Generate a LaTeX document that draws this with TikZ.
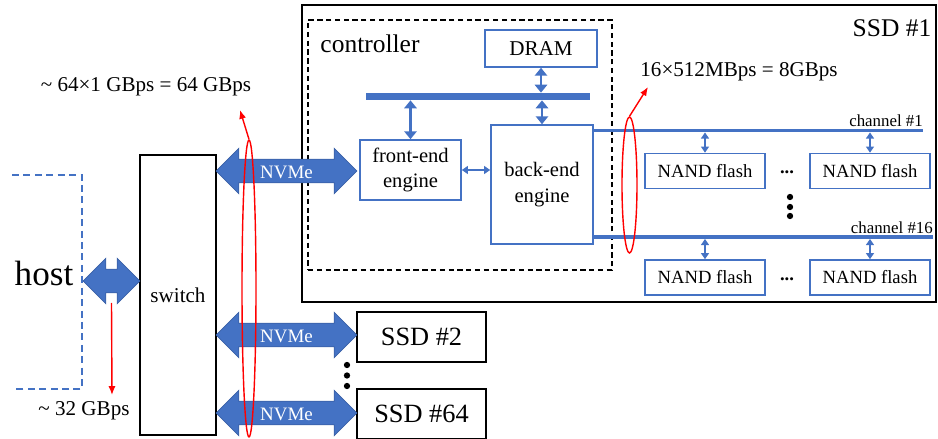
\documentclass[tikz,border=0pt]{standalone}
\usepackage{fontspec}
\setmainfont{Liberation Serif}
\usetikzlibrary{arrows.meta,shapes.arrows,shapes.geometric,positioning,calc}
\definecolor{ofblue}{HTML}{4472C4}
\definecolor{ofred}{HTML}{FF0000}
\tikzset{
  blk/.style={rectangle,draw,line width=1.3pt,inner sep=0pt},
  bbox/.style={rectangle,draw=ofblue,line width=0.9pt,inner sep=0pt,align=center},
  nvme/.style={double arrow,fill=ofblue,draw=ofblue!85!black,line width=0.4pt,
    double arrow head extend=0.22cm,inner xsep=0pt,inner ysep=2.5pt,
    text height=8pt,text depth=0pt,minimum height=2.82cm,text=white,
    font=\fontsize{10.8}{12}\selectfont},
  link/.style={ofblue,line width=1.7pt,{Triangle[length=4.5pt,width=7pt]}-{Triangle[length=4.5pt,width=7pt]}},
  slink/.style={ofblue,line width=1.1pt,{Triangle[length=3.5pt,width=4.5pt]}-{Triangle[length=3.5pt,width=4.5pt]}},
  chan/.style={ofblue,line width=2.2pt},
  chanlbl/.style={above left=1pt and -1pt,inner sep=0pt,text=black,font=\fontsize{9.6}{11}\selectfont},
  redarr/.style={ofred,line width=0.8pt,-{Latex[length=5pt,width=4pt]}},
  redring/.style={ellipse,draw=ofred,line width=0.8pt,inner sep=0pt}
}

\begin{document}
\begin{tikzpicture}[x=0.02cm,y=-0.02cm]
  \useasboundingbox (0,0) rectangle (938,439);

  % SSD #1 and its controller
  \path
  (619,153.5) node(ssd1) [blk,minimum width=12.68cm,minimum height=5.94cm] {}
  (892,28.3) node(ssd1lbl) [font=\fontsize{14.5}{16}\selectfont] {SSD \#1}
  (460,145) node(ctrl) [rectangle,draw,line width=0.9pt,dash pattern=on 3pt off 2pt,minimum width=6.08cm,minimum height=5cm] {}
  (370,44) node(ctrllbl) [font=\fontsize{14.5}{16}\selectfont] {controller}
  (541,48.5) node(dram) [bbox,minimum width=2.24cm,minimum height=0.74cm,font=\fontsize{12}{14}\selectfont] {DRAM}
  (478,96.5) node(bus) [rectangle,fill=ofblue,inner sep=0pt,minimum width=4.48cm,minimum height=0.14cm] {}
  (410.5,170) node(fe) [bbox,minimum width=2.02cm,minimum height=1.2cm,font=\fontsize{11.7}{14.5}\selectfont] {front-end\\engine}
  (542,184.5) node(be) [bbox,minimum width=2.04cm,minimum height=2.38cm,font=\fontsize{11.7}{14.5}\selectfont] {back-end\\engine};

  % NAND flash chips
  \path
  (705,171) node(n11) [bbox,minimum width=2.4cm,minimum height=0.7cm,font=\fontsize{10.6}{12}\selectfont] {NAND flash}
  (870,171) node(n1k) [bbox,minimum width=2.4cm,minimum height=0.7cm,font=\fontsize{10.6}{12}\selectfont] {NAND flash}
  (705,277.5) node(n161) [bbox,minimum width=2.4cm,minimum height=0.7cm,font=\fontsize{10.6}{12}\selectfont] {NAND flash}
  (870,277.5) node(n16k) [bbox,minimum width=2.4cm,minimum height=0.7cm,font=\fontsize{10.6}{12}\selectfont] {NAND flash}
  (787,172) node(hd1) [font=\fontsize{10.6}{12}\selectfont\bfseries] {...}
  (787,279) node(hd16) [font=\fontsize{10.6}{12}\selectfont\bfseries] {...};

  % switch, other SSDs and host
  \path
  (178,295) node(switch) [blk,minimum width=1.52cm,minimum height=5.6cm,font=\fontsize{12}{14}\selectfont] {switch}
  (421.5,337) node(ssd2) [blk,minimum width=2.58cm,minimum height=1cm,font=\fontsize{15}{17}\selectfont] {SSD \#2}
  (421.5,414) node(ssd64) [blk,minimum width=2.58cm,minimum height=1cm,font=\fontsize{15}{17}\selectfont] {SSD \#64}
  (44,273) node(host) [font=\fontsize{20}{22}\selectfont] {host}
  (111.5,281) node(harrow) [double arrow,fill=ofblue,draw=ofblue!85!black,line width=0.4pt,
    double arrow head extend=0.22cm,inner xsep=0pt,inner ysep=6.5pt,minimum height=1.14cm] {}
  (286.5,171) node(nv1) [nvme] {NVMe}
  (286.5,335) node(nv2) [nvme] {NVMe}
  (286.5,413) node(nv64) [nvme] {NVMe};
  \draw[ofblue,line width=1.3pt,dash pattern=on 4pt off 2.5pt] (12,175) -- (82,175) -- (82,389) -- (12,389);

  % bus and channels
  \draw[link] (dram.south) -- (dram.south |- bus.north);
  \draw[link] (be.north |- bus.south) -- (be.north);
  \draw[link] (fe.north) -- (fe.north |- bus.south);
  \draw[slink] (fe.east) -- (fe.east -| be.west);
  \draw[chan] (be.east |- 0,130.5) -- (923,130.5) coordinate(ch1) node[chanlbl] {channel \#1};
  \draw[chan] (be.east |- 0,237) -- (933,237) coordinate(ch16) node[chanlbl] {channel \#16};
  \draw (n11) edge[slink,shorten >=1.1pt] (n11.north |- ch1)
        (n1k) edge[slink,shorten >=1.1pt] (n1k.north |- ch1)
        (n161) edge[slink,shorten >=1.1pt] (n161.north |- ch16)
        (n16k) edge[slink,shorten >=1.1pt] (n16k.north |- ch16);
  \foreach \y in {197,207,216} \fill (790,\y) circle (1.8pt);
  \foreach \y in {365,375.5,386} \fill (347,\y) circle (1.8pt);

  % bandwidth notes
  \path
  (249,288.5) node(ring1) [redring,minimum width=0.28cm,minimum height=5.94cm] {}
  (629.5,185) node(ring2) [redring,minimum width=0.3cm,minimum height=2.72cm] {}
  (146,87) node(bw64) [font=\fontsize{12}{14}\selectfont] {\textasciitilde{} 64×1 GBps = 64 GBps}
  (739,72) node(bw8) [font=\fontsize{12}{14}\selectfont] {16×512MBps = 8GBps}
  (84,411) node(bw32) [font=\fontsize{12}{14}\selectfont] {\textasciitilde{} 32 GBps};
  \coordinate (t64) at (240,110);
  \coordinate (t8) at (648,87);
  \coordinate (t32) at (112,395);
  \draw[redarr] (ring1.north) -- (t64);
  \draw[redarr] (ring2.north) -- (t8);
  \draw[redarr] (harrow.center) ++(0,22) -- (t32);
\end{tikzpicture}
\end{document}
